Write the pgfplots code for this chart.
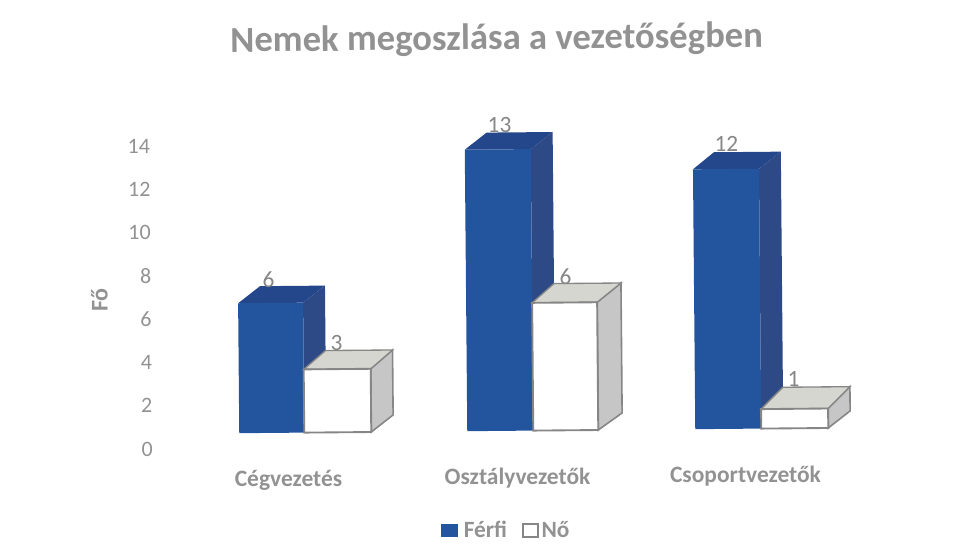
\documentclass[border=0pt]{standalone}
\usepackage{fontspec}
\setmainfont{Carlito}
\usepackage{pgfplots}
\pgfplotsset{compat=1.18}
\definecolor{bluefront}{HTML}{23559F}
\definecolor{blueside}{HTML}{2E4A86}
\definecolor{bluetop}{HTML}{24478C}
\definecolor{txt}{HTML}{929292}
\definecolor{edge}{HTML}{868686}
\definecolor{sidegray}{HTML}{C6C6C6}
\definecolor{topgray}{HTML}{D6D6D0}
\begin{document}
\begin{tikzpicture}
\begin{axis}[
  at={(121.9pt,83.25pt)},anchor=south west,
  x={(0.75pt,0.0066pt)},y={(-0.143pt,16.24pt)},
  xmin=165,xmax=875,ymin=0,ymax=15,
  clip=false,
  axis line style={draw=none},
  major tick length=0pt,
  xtick={288,517,745},
  xticklabels={Cégvezetés,Osztályvezetők,Csoportvezetők},
  ytick={0,2,4,6,8,10,12,14},
  /pgf/number format/assume math mode=true,
  tick label style={font=\fontsize{16.5}{18}\selectfont,text=txt},
  x tick label style={font=\fontsize{17.6}{20}\selectfont\bfseries,yshift=-13pt},
  y tick label style={xshift=-6pt},
  ylabel={Fő},
  ylabel style={font=\fontsize{18}{20}\selectfont\bfseries,text=txt,at={(0,0.45)},anchor=south,yshift=37.6pt},
  title={Nemek megoszlása a vezetőségben},
  title style={font=\fontsize{27.5}{30}\selectfont\bfseries,text=txt,at={(0.469,1)},anchor=south,yshift=37pt,rotate=0.5},
  legend style={draw=none,fill=none,at={(0.483,0)},anchor=north,yshift=-50pt,
    font=\fontsize{17.5}{20}\selectfont\bfseries,text=txt,legend columns=2,
    /tikz/column 1/.style={column sep=3pt},
    /tikz/column 2/.style={column sep=9pt}},
  legend image code/.code={\draw[#1] (0,-4.6pt) rectangle (9.2pt,4.6pt);},
]
% Cégvezetés - Férfi 6
\addplot[fill=blueside,draw=none,forget plot] coordinates {(304,0.7)(326,1.48)(326,7.48)(304,6.7)} -- cycle;
\addplot[fill=bluetop,draw=none,forget plot] coordinates {(239,6.7)(261,7.48)(326,7.48)(304,6.7)} -- cycle;
\addplot[fill=bluefront,draw=none,forget plot] coordinates {(239,0.7)(239,6.7)(304,6.7)(304,0.7)} -- cycle;
% Cégvezetés - Nő 3
\addplot[fill=sidegray,draw=edge,line width=1.2pt,forget plot] coordinates {(371,0.7)(393,1.48)(393,4.48)(371,3.62)} -- cycle;
\addplot[fill=topgray,draw=edge,line width=1pt,forget plot] coordinates {(304,3.62)(326,4.48)(393,4.48)(371,3.62)} -- cycle;
\addplot[fill=white,draw=edge,line width=1.4pt,forget plot] coordinates {(304,0.7)(304,3.62)(371,3.62)(371,0.7)} -- cycle;
% Osztályvezetők - Férfi 13
\addplot[fill=blueside,draw=none,forget plot] coordinates {(533,0.7)(555,1.48)(555,14.48)(533,13.7)} -- cycle;
\addplot[fill=bluetop,draw=none,forget plot] coordinates {(467,13.7)(489,14.48)(555,14.48)(533,13.7)} -- cycle;
\addplot[fill=bluefront,draw=none,forget plot] coordinates {(467,0.7)(467,13.7)(533,13.7)(533,0.7)} -- cycle;
% Osztályvezetők - Nő 6
\addplot[fill=sidegray,draw=edge,line width=1.2pt,forget plot] coordinates {(598,0.7)(622,1.48)(622,7.48)(598,6.6)} -- cycle;
\addplot[fill=topgray,draw=edge,line width=1pt,forget plot] coordinates {(533,6.6)(555,7.48)(622,7.48)(598,6.6)} -- cycle;
\addplot[fill=white,draw=edge,line width=1.4pt,forget plot] coordinates {(533,0.7)(533,6.6)(598,6.6)(598,0.7)} -- cycle;
% Csoportvezetők - Férfi 12
\addplot[fill=blueside,draw=none,forget plot] coordinates {(761,0.7)(783,1.48)(783,13.48)(761,12.7)} -- cycle;
\addplot[fill=bluetop,draw=none,forget plot] coordinates {(695,12.7)(716,13.48)(783,13.48)(761,12.7)} -- cycle;
\addplot[fill=bluefront,draw=none,forget plot] coordinates {(695,0.7)(695,12.7)(761,12.7)(761,0.7)} -- cycle;
% Csoportvezetők - Nő 1
\addplot[fill=sidegray,draw=edge,line width=1.2pt,forget plot] coordinates {(828,0.7)(850,1.48)(850,2.6)(828,1.6)} -- cycle;
\addplot[fill=topgray,draw=edge,line width=1pt,forget plot] coordinates {(761,1.6)(783,2.6)(850,2.6)(828,1.6)} -- cycle;
\addplot[fill=white,draw=edge,line width=1.4pt,forget plot] coordinates {(761,0.7)(761,1.6)(828,1.6)(828,0.7)} -- cycle;
% data labels
\foreach \xx/\yy/\tt in {269.5/7.76/6,337/4.83/3,502/14.83/13,566.5/7.78/6,728.6/13.86/12,793.6/2.98/1}{
  \edef\temp{\noexpand\node[text=edge,font=\noexpand\fontsize{17.5}{20}\noexpand\selectfont] at (axis cs:\xx,\yy) {\tt};}
  \temp
}
\addlegendimage{fill=bluefront,draw=bluefront}
\addlegendentry{Férfi}
\addlegendimage{fill=white,draw=edge,line width=1.5pt}
\addlegendentry{Nő}
\end{axis}
\pgfresetboundingbox
\path[use as bounding box] (0,0) rectangle (731.25pt,420pt);
\end{tikzpicture}
\end{document}
